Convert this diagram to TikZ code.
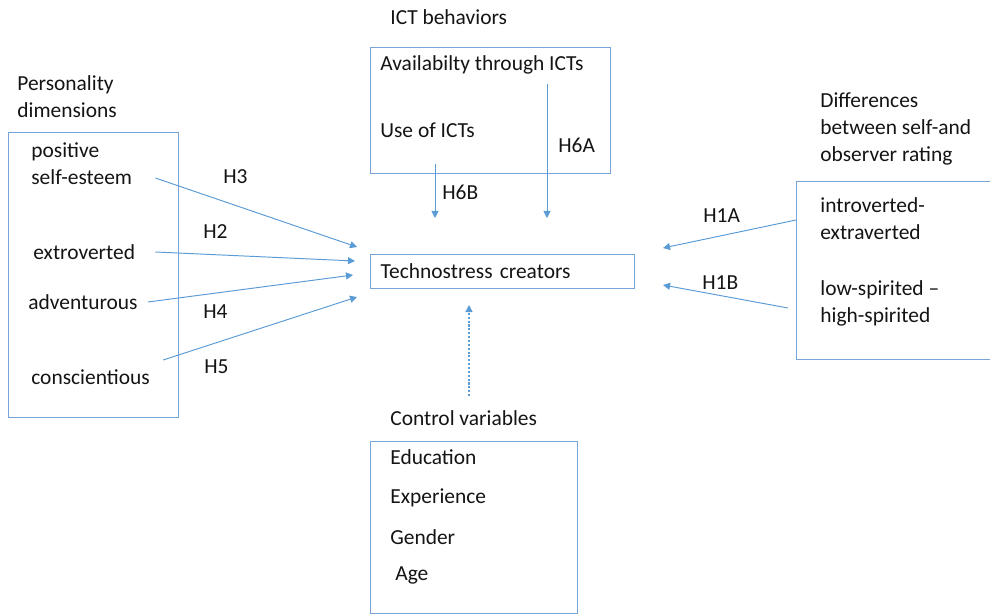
\documentclass[tikz,border=0pt]{standalone}
\usepackage{fontspec}
\setmainfont{Carlito}
\usetikzlibrary{arrows.meta}
\definecolor{lineblue}{RGB}{91,155,213}
\definecolor{boxblue}{RGB}{120,165,215}
\definecolor{txt}{RGB}{20,20,20}
\newcommand{\fsz}{\fontsize{12.2}{15.3}\selectfont}
\begin{document}
\begin{tikzpicture}[
    x=0.02cm, y=0.02cm,
    every node/.style={font=\fsz, text=txt},
    lbl/.style={anchor=west, inner sep=0pt, align=left},
    box/.style={rectangle, draw=boxblue, line width=0.7pt, anchor=north west, inner sep=0pt},
    arr/.style={-{Triangle[length=4pt, width=4pt]}, draw=lineblue, line width=0.55pt}
]
\useasboundingbox (0,0) rectangle (990,-615);
% boxes
\node[box, minimum width=3.4cm,  minimum height=5.7cm]  (pers) at (8,-132) {};
\node[box, minimum width=4.8cm,  minimum height=2.52cm] (ict)  at (370,-47) {};
\node[box, minimum width=5.28cm, minimum height=0.68cm, text width=4.88cm, inner xsep=0.2cm, align=left] (tc) at (370,-254) {Technostress creators};
\node[box, minimum width=4.2cm,  minimum height=3.56cm] (diff) at (796,-181) {};
\node[box, minimum width=4.14cm, minimum height=3.44cm] (ctrl) at (370,-441) {};
% headings
\node[lbl] (hpers) at (17,-96.5) {Personality\\dimensions};
\node[lbl] (hict)  at (390,-17)  {ICT behaviors};
\node[lbl] (hdiff) at (820,-129) {Differences\\between self-and\\observer rating};
\node[lbl] (hctrl) at (390,-418) {Control variables};
% items
\node[lbl] (pse)  at (31,-163.5) {positive\\self-esteem};
\node[lbl] (ext)  at (33,-252)   {extroverted};
\node[lbl] (adv)  at (28,-302)   {adventurous};
\node[lbl] (con)  at (31,-377)   {conscientious};
\node[lbl] (avail) at (380,-65)  {Availabilty through ICTs};
\node[lbl] (use)   at (380,-130) {Use of ICTs};
\node[lbl] (intro) at (820,-218.5) {introverted-\\extraverted};
\node[lbl] (spir)  at (820,-303.5) {low-spirited --\\high-spirited};
\node[lbl] (edu) at (390,-457) {Education};
\node[lbl] (exp) at (390,-498) {Experience};
\node[lbl] (gen) at (390,-537) {Gender};
\node[lbl] (age) at (395,-575) {Age};
% hypothesis labels
\node[lbl] (h3)  at (223,-177) {H3};
\node[lbl] (h2)  at (203,-232) {H2};
\node[lbl] (h4)  at (203,-312) {H4};
\node[lbl] (h5)  at (204,-367) {H5};
\node[lbl] (h6a) at (558,-145) {H6A};
\node[lbl] (h6b) at (442,-192) {H6B};
\node[lbl] (h1a) at (703,-216) {H1A};
\node[lbl] (h1b) at (702,-283) {H1B};
% arrow tips at the technostress box
\coordinate (t3)  at (357,-247);
\coordinate (t2)  at (355,-261);
\coordinate (t4)  at (353,-275);
\coordinate (t5)  at (357,-297);
\coordinate (t6a) at (547,-218);
\coordinate (t6b) at (435,-218);
\coordinate (t1a) at (663,-248);
\coordinate (t1b) at (663,-285);
\coordinate (tct) at (469,-305);
% arrows
\draw[arr] ([xshift=0.46cm, yshift=-0.29cm]pse.east) -- (t3);
\draw[arr] ([xshift=0.40cm]ext.east) -- (t2);
\draw[arr] ([xshift=0.20cm]adv.east) -- (t4);
\draw[arr] ([xshift=0.26cm, yshift=0.34cm]con.east) -- (t5);
\draw[arr, shorten <=0.18cm] (t6a |- avail.south) -- (t6a);
\draw[arr, shorten <=0.52cm] (t6b |- use.south) -- (t6b);
\draw[arr] ([xshift=-0.48cm, yshift=-0.03cm]intro.west) -- (t1a);
\draw[arr] ([xshift=-0.64cm, yshift=-0.09cm]spir.west) -- (t1b);
\draw[arr, line width=0.7pt, dash pattern=on 1.2pt off 1pt, shorten <=0.28cm] (tct |- hctrl.north) -- (tct);
\end{tikzpicture}
\end{document}
